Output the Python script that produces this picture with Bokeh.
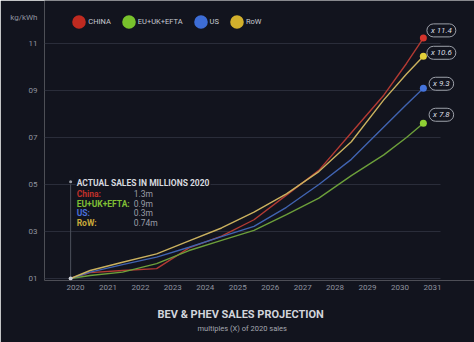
from bokeh.plotting import figure
from bokeh.models import Label, Legend, LegendItem, FixedTicker, Range1d, Title
from bokeh.embed import file_html
from bokeh.resources import INLINE

# ---------------- data ----------------
YEARS = [2019.85, 2020.45, 2021.45, 2022.5, 2023.5, 2024.5, 2025.5,
         2026.5, 2027.5, 2028.5, 2029.5, 2030.2, 2030.72]
CHINA = [1.0, 1.25, 1.34, 1.42, 2.3, 2.8, 3.5, 4.55, 5.6, 7.2, 8.8, 10.15, 11.23]
EU_UK_EFTA = [1.0, 1.13, 1.27, 1.63, 2.19, 2.62, 3.05, 3.72, 4.42, 5.38, 6.26, 7.0, 7.61]
US = [1.0, 1.27, 1.59, 1.91, 2.33, 2.78, 3.22, 4.03, 5.0, 6.07, 7.45, 8.4, 9.1]
ROW = [1.0, 1.34, 1.69, 2.05, 2.6, 3.15, 3.82, 4.6, 5.55, 6.82, 8.6, 9.7, 10.46]

SERIES_NAMES = ["CHINA", "EU+UK+EFTA", "US", "RoW"]
END_LABELS = ["x 11.4", "x 7.8", "x 9.3", "x 10.6"]
SALES_LABELS = ["China:", "EU+UK+EFTA:", "US:", "RoW:"]
SALES_2020 = ["1.3m", "0.9m", "0.3m", "0.74m"]
X_TICKS = list(range(2020, 2032))
Y_TICKS = [1, 3, 5, 7, 9, 11]
Y_TICK_LABELS = ["01", "03", "05", "07", "09", "11"]
Y_UNIT = "kg/kWh"
Y_UNIT_AT = 12.09
TABLE_TITLE = "ACTUAL SALES IN MILLIONS 2020"
TITLE = "BEV & PHEV SALES PROJECTION"
SUBTITLE = "multiples (X) of 2020 sales"

# ---------------- styles ----------------
BG = "#12141e"
GRID = "#2a2d3a"
TICK_TXT = "#8f939e"
FONT = "Roboto"
LINE_COLORS = ["#b23a33", "#6c9f3a", "#4063b0", "#cbb25f"]
DOT_COLORS = ["#d4342c", "#8fd034", "#4574dc", "#e2cf3a"]
LEGEND_COLORS = ["#bf2a20", "#78c22c", "#3d6dd6", "#d2b02c"]
TABLE_COLORS = ["#c0302a", "#7fbf35", "#4a6fd8", "#c9a93a"]
PILL_DY = [7.7, 8.4, 4.4, 3.4]

series = [CHINA, EU_UK_EFTA, US, ROW]

W, H = 474, 342
FRAME_L, FRAME_T, FRAME_B = 44, 0, 280
PX_PER_YEAR, PX_PER_UNIT = 32.45, 23.5
X0 = 2020 - (75 - FRAME_L) / PX_PER_YEAR
X1 = X0 + (W - FRAME_L) / PX_PER_YEAR
Y0 = 1 - (FRAME_B - 278) / PX_PER_UNIT
Y1 = 1 + (278 - FRAME_T) / PX_PER_UNIT
GRID_END = 2020 + (440 - 75) / PX_PER_YEAR
NAN = float("nan")

p = figure(width=W, height=H, x_range=Range1d(X0, X1), y_range=Range1d(Y0, Y1),
           output_backend="svg", toolbar_location=None,
           min_border_left=FRAME_L, min_border_right=0,
           min_border_top=FRAME_T, min_border_bottom=H - FRAME_B)
p.background_fill_color = BG
p.border_fill_color = BG
p.outline_line_color = None
p.xgrid.visible = False
p.ygrid.visible = False

for ax in (p.xaxis[0], p.yaxis[0]):
    ax.axis_line_color = None
    ax.major_tick_line_color = None
    ax.minor_tick_line_color = None
    ax.major_tick_out = 0
    ax.minor_tick_out = 0
    ax.major_tick_in = 0
    ax.major_label_text_color = TICK_TXT
    ax.major_label_text_font = FONT
    ax.major_label_text_font_size = "8px"

p.xaxis.ticker = FixedTicker(ticks=X_TICKS)
p.xaxis.major_label_standoff = 4
# an invisible axis label only adds room between the ticks and the title
p.xaxis.axis_label = " "
p.xaxis.axis_label_text_font_size = "1px"
p.xaxis.axis_label_standoff = 6
p.yaxis.ticker = FixedTicker(ticks=Y_TICKS + [Y_UNIT_AT])
overrides = {t: l for t, l in zip(Y_TICKS, Y_TICK_LABELS)}
overrides[Y_UNIT_AT] = Y_UNIT
p.yaxis.major_label_overrides = overrides
p.yaxis.major_label_standoff = 7

# horizontal grid lines (stop short of the right edge, as in the reference)
p.segment(x0=[X0] * len(Y_TICKS), x1=[GRID_END] * len(Y_TICKS),
          y0=Y_TICKS, y1=Y_TICKS, line_color=GRID, line_width=1)

# lines
for vals, c in zip(series, LINE_COLORS):
    p.line(YEARS, vals, line_color=c, line_width=1.4)

# annotation guide line + dot
p.segment(x0=[YEARS[0]], y0=[CHINA[0]], x1=[YEARS[0]], y1=[5.0],
          line_color="#4c505c", line_width=1)
p.scatter(x=[YEARS[0]], y=[5.12], size=3, fill_color="#9a9ea8", line_color=None)

# start dot
p.scatter(x=[YEARS[0]], y=[CHINA[0]], size=4, fill_color="#c9ccd2", line_color=None)

# end dots
for vals, c in zip(series, DOT_COLORS):
    p.scatter(x=[YEARS[-1]], y=[vals[-1]], size=7, fill_color=c, line_color=None)

# end multiple pills
for vals, txt, dy in zip(series, END_LABELS, PILL_DY):
    p.add_layout(Label(x=YEARS[-1], y=vals[-1], x_offset=18, y_offset=dy,
                       text=txt, text_align="center", text_baseline="middle",
                       text_font=FONT, text_font_style="italic",
                       text_font_size="8px", text_color="#dcdfe4",
                       background_fill_color=BG, border_line_color="#9da1aa",
                       border_line_width=1, border_radius=7, padding=(4, 2)))

# legend: circles drawn by ellipse renderers (no data points in the plot)
legend_renderers = [p.ellipse(x=[NAN], y=[NAN], width=14, height=14,
                              width_units="screen", height_units="screen",
                              fill_color=c, line_color=None)
                    for c in LEGEND_COLORS]
legend = Legend(items=[LegendItem(label=n, renderers=[r])
                       for n, r in zip(SERIES_NAMES, legend_renderers)],
                orientation="horizontal", location=(26.25, FRAME_B - 29.75),
                glyph_width=17, glyph_height=17, label_standoff=1,
                label_width=0, spacing=9, padding=0, margin=0,
                background_fill_alpha=0, border_line_alpha=0,
                label_text_color="#c8cbd2", label_text_font=FONT,
                label_text_font_size="7.5px", label_height=17)
p.add_layout(legend)

# table of 2020 sales
p.add_layout(Label(x=YEARS[0], y=5.0, x_offset=5, y_offset=2,
                   text=TABLE_TITLE, text_align="left", text_baseline="middle",
                   text_font=FONT, text_font_style="bold",
                   text_font_size="8.5px", text_color="#d6d9df",
                   background_fill_color=BG, padding=(1, 1)))
for i, (lab, v, c) in enumerate(zip(SALES_LABELS, SALES_2020, TABLE_COLORS)):
    dy = -9.5 - 9.7 * i
    p.add_layout(Label(x=YEARS[0], y=5.0, x_offset=6, y_offset=dy, text=lab,
                       text_align="left", text_baseline="middle",
                       text_font=FONT, text_font_style="bold",
                       text_font_size="8.5px", text_color=c))
    p.add_layout(Label(x=YEARS[0], y=5.0, x_offset=63, y_offset=dy, text=v,
                       text_align="left", text_baseline="middle",
                       text_font=FONT, text_font_size="8.5px",
                       text_color="#9a9ea8"))

# titles below the axis
p.add_layout(Title(text=TITLE, align="left", offset=113, standoff=6,
                   text_font=FONT, text_font_style="bold",
                   text_font_size="11px", text_color="#d2d5dc"), "below")
p.add_layout(Title(text=SUBTITLE, align="left", offset=153, standoff=-3,
                   text_font=FONT, text_font_style="normal",
                   text_font_size="7.5px", text_color="#a3a7b0"), "below")

open("out.html", "w").write(file_html(p, INLINE))
